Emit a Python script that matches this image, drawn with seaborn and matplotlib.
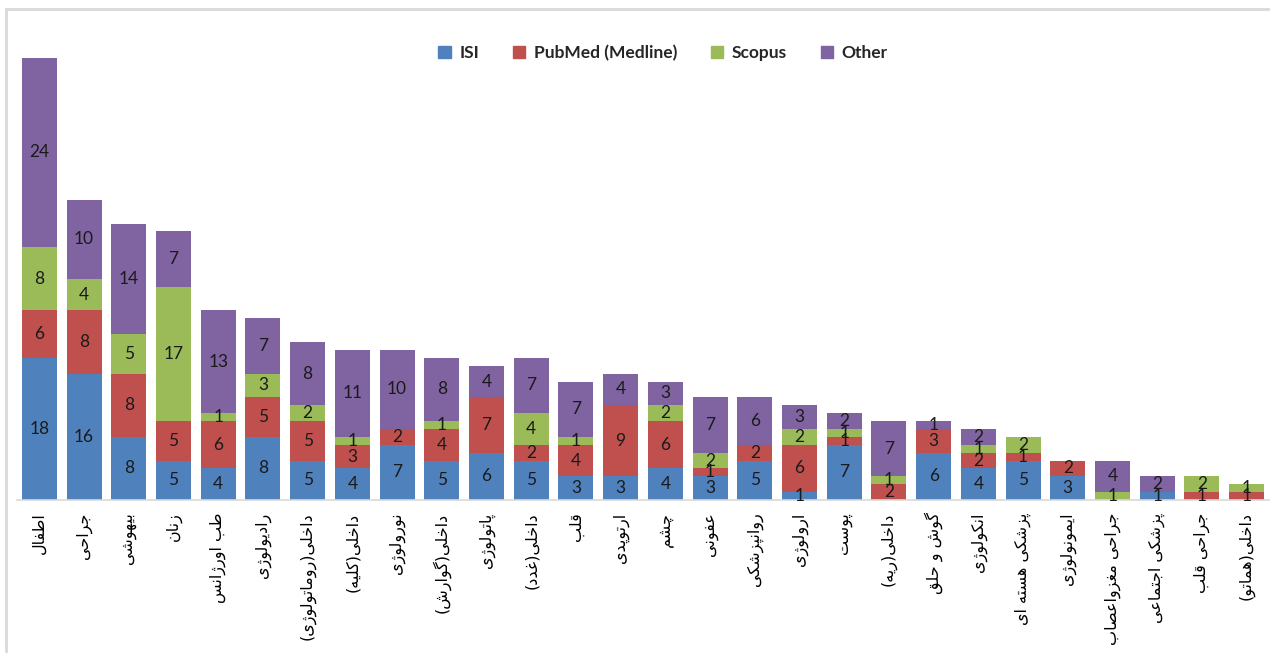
# Gestapeltes Säulendiagramm: Publikationen nach Fachgebiet und Datenbank

import matplotlib
matplotlib.use('Agg')
import matplotlib.pyplot as plt
import matplotlib.patches as mpatches
import numpy as np
import pandas as pd
import seaborn as sns


# Daten
fachgebiete = ['اطفال', 'جراحی', 'بیهوشی', 'زنان', 'طب اورژانس', 'رادیولوژی',
               'داخلی(روماتولوژی)', 'داخلی(کلیه)', 'نورولوژی', 'داخلی(گوارش)',
               'پاتولوژی', 'داخلی(غدد)', 'قلب', 'ارتوپدی', 'چشم', 'عفونی',
               'روانپزشکی', 'ارولوژی', 'پوست', 'داخلی(ریه)', 'گوش و حلق',
               'انکولوژی', 'پزشکی هسته ای', 'ایمونولوژی', 'جراحی مغزواعصاب',
               'پزشکی اجتماعی', 'جراحی قلب', 'داخلی(هماتو)']
isi = [18, 16, 8, 5, 4, 8, 5, 4, 7, 5, 6, 5, 3, 3, 4, 3, 5, 1, 7, 0, 6, 4, 5, 3, 0, 1, 0, 0]
pubmed = [6, 8, 8, 5, 6, 5, 5, 3, 2, 4, 7, 2, 4, 9, 6, 1, 2, 6, 1, 2, 3, 2, 1, 2, 0, 0, 1, 1]
scopus = [8, 4, 5, 17, 1, 3, 2, 1, 0, 1, 0, 4, 1, 0, 2, 2, 0, 2, 1, 1, 0, 1, 2, 0, 1, 0, 2, 1]
other = [24, 10, 14, 7, 13, 7, 8, 11, 10, 8, 4, 7, 7, 4, 3, 7, 6, 3, 2, 7, 1, 2, 0, 0, 4, 2, 0, 0]

reihen = ['ISI', 'PubMed (Medline)', 'Scopus', 'Other']
farben = ['#4F81BD', '#C0504D', '#9BBB59', '#8064A2']


# Persische Buchstabenformen (matplotlib kann kein Arabisch verbinden)
FORMEN = {
    'ا': (0xFE8D, 0xFE8E),
    'ب': (0xFE8F, 0xFE90, 0xFE91, 0xFE92),
    'پ': (0xFB56, 0xFB57, 0xFB58, 0xFB59),
    'ت': (0xFE95, 0xFE96, 0xFE97, 0xFE98),
    'ج': (0xFE9D, 0xFE9E, 0xFE9F, 0xFEA0),
    'چ': (0xFB7A, 0xFB7B, 0xFB7C, 0xFB7D),
    'ح': (0xFEA1, 0xFEA2, 0xFEA3, 0xFEA4),
    'خ': (0xFEA5, 0xFEA6, 0xFEA7, 0xFEA8),
    'د': (0xFEA9, 0xFEAA),
    'ر': (0xFEAD, 0xFEAE),
    'ز': (0xFEAF, 0xFEB0),
    'ژ': (0xFB8A, 0xFB8B),
    'س': (0xFEB1, 0xFEB2, 0xFEB3, 0xFEB4),
    'ش': (0xFEB5, 0xFEB6, 0xFEB7, 0xFEB8),
    'ص': (0xFEB9, 0xFEBA, 0xFEBB, 0xFEBC),
    'ط': (0xFEC1, 0xFEC2, 0xFEC3, 0xFEC4),
    'ع': (0xFEC9, 0xFECA, 0xFECB, 0xFECC),
    'غ': (0xFECD, 0xFECE, 0xFECF, 0xFED0),
    'ف': (0xFED1, 0xFED2, 0xFED3, 0xFED4),
    'ق': (0xFED5, 0xFED6, 0xFED7, 0xFED8),
    'ک': (0xFB8E, 0xFB8F, 0xFB90, 0xFB91),
    'گ': (0xFB92, 0xFB93, 0xFB94, 0xFB95),
    'ل': (0xFEDD, 0xFEDE, 0xFEDF, 0xFEE0),
    'م': (0xFEE1, 0xFEE2, 0xFEE3, 0xFEE4),
    'ن': (0xFEE5, 0xFEE6, 0xFEE7, 0xFEE8),
    'و': (0xFEED, 0xFEEE),
    'ه': (0xFEE9, 0xFEEA, 0xFEEB, 0xFEEC),
    'ی': (0xFBFC, 0xFBFD, 0xFBFE, 0xFBFF),
}


def persisch(text):
    zeichen = []
    for i, ch in enumerate(text):
        f = FORMEN.get(ch)
        if f is None:
            zeichen.append(ch)
            continue
        vorher = text[i - 1] if i > 0 else ''
        nachher = text[i + 1] if i + 1 < len(text) else ''
        links = vorher in FORMEN and len(FORMEN[vorher]) == 4
        rechts = len(f) == 4 and nachher in FORMEN
        if links and rechts:
            idx = 3
        elif links:
            idx = 1
        elif rechts:
            idx = 2
        else:
            idx = 0
        zeichen.append(chr(f[idx]))
    # Umdrehen für die Darstellung von rechts nach links, Klammern spiegeln
    spiegel = {'(': ')', ')': '('}
    return ''.join(spiegel.get(c, c) for c in reversed(zeichen))


beschriftung = [persisch(t) for t in fachgebiete]

# Dataframe mit kumulierten Werten
werte = np.array([isi, pubmed, scopus, other])
kumuliert = werte.cumsum(axis=0)
df = pd.DataFrame({'Fach': beschriftung})
for name, kum in zip(reihen, kumuliert):
    df[name] = kum


# Plot
sns.set_style('white')
plt.rcParams['font.family'] = ['Lato', 'DejaVu Sans']

fig = plt.figure(figsize=(12.7, 6.53), dpi=100)
ax = fig.add_axes([17 / 1270, 1 - 500 / 653, 1252 / 1270, 474 / 653])

# Von oben nach unten zeichnen, damit die Stapel sichtbar bleiben
for name, farbe in reversed(list(zip(reihen, farben))):
    sns.barplot(data=df, x='Fach', y=name, color=farbe, saturation=1,
                width=0.78, ax=ax, linewidth=0)

# Werte in die Segmente schreiben
unten = np.zeros(len(fachgebiete))
for reihe in werte:
    for i, v in enumerate(reihe):
        if v > 0:
            ax.text(i, unten[i] + v / 2, str(v), ha='center', va='center',
                    fontsize=12.5, color='#1a1a1a')
    unten = unten + reihe

ax.set_xlim(-0.5, len(fachgebiete) - 0.5)
ax.set_ylim(0, 60)
ax.set_xlabel('')
ax.set_ylabel('')
ax.set_yticks([])
for seite in ['left', 'right', 'top']:
    ax.spines[seite].set_visible(False)
ax.spines['bottom'].set_color('#D9D9D9')
ax.spines['bottom'].set_linewidth(1.2)
ax.tick_params(axis='x', length=0, pad=9)
plt.setp(ax.get_xticklabels(), rotation=90, fontsize=11.5,
         family='DejaVu Sans', color='black')

# Legende
griffe = [mpatches.Patch(color=f, label=n) for n, f in zip(reihen, farben)]
fig.legend(handles=griffe, loc='center', ncol=4,
           bbox_to_anchor=(663 / 1270, 1 - 53 / 653), frameon=False,
           handlelength=0.7, handleheight=0.7, handletextpad=0.5,
           columnspacing=1.95, prop={'weight': 'bold', 'size': 12.5})

# Rahmen des Diagramms (nur links und oben sichtbar)
rahmen = mpatches.Rectangle((6 / 1270, -0.2), 2, 1.2 - 9 / 653,
                            transform=fig.transFigure, fill=False,
                            edgecolor='#D9D9D9', linewidth=2)
fig.add_artist(rahmen)

plt.savefig('out.png', dpi=100)
